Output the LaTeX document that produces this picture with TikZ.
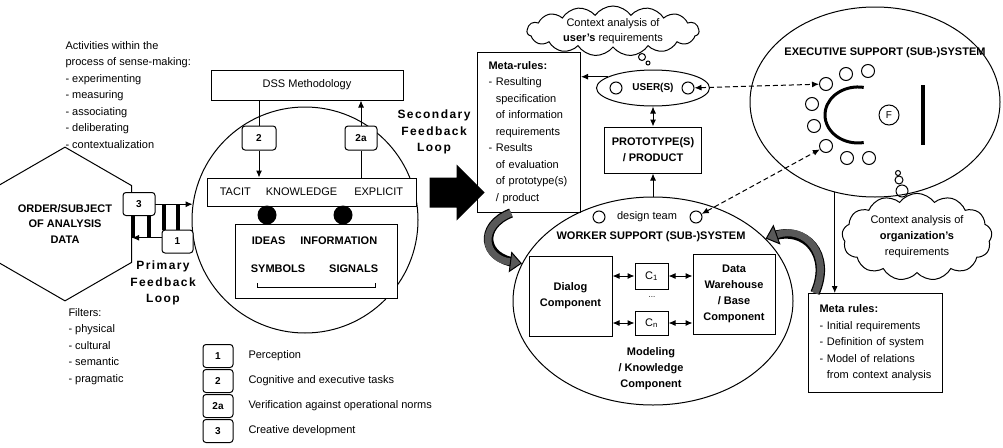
\documentclass[tikz,border=0pt]{standalone}
\usepackage{fontspec}
\setmainfont{Liberation Sans}
\newfontfamily\loopfont[LetterSpace=12]{Liberation Sans}
\usetikzlibrary{shapes.geometric,shapes.symbols,shapes.arrows,arrows.meta}

\tikzset{
  box/.style={draw, inner sep=0pt},
  heavy/.style={font=\bfseries\fontsize{11}{16}\selectfont, align=center},
  numbox/.style={draw, rounded corners=3pt, fill=white, inner sep=0pt, minimum width=32pt, minimum height=23pt, font=\bfseries},
  ring/.style={circle, draw, inner sep=0pt, minimum size=13pt},
  blob/.style={circle, fill, inner sep=0pt, minimum size=19pt},
  puff/.style={circle, draw, inner sep=0pt},
  thought/.style={cloud, cloud puffs=13, cloud puff arc=110, draw, inner sep=0pt, align=center, font=\fontsize{11}{16}\selectfont},
  looptext/.style={font=\loopfont\bfseries\fontsize{12}{16.5}\selectfont, align=center},
  dasharr/.style={<->, dash pattern=on 5pt off 3pt, line width=1pt},
  fatarr/.style={line width=7pt, draw=black!65, -{Triangle[length=12pt,width=21pt,line width=1pt,color=black,fill=black!65]},
    preaction={draw=black, line width=9.5pt, -, shorten >=6pt}}
}

\begin{document}
\begin{tikzpicture}[x=1pt, y=-1pt, line width=1pt, font=\fontsize{11}{16.5}\selectfont, >={Latex[length=7pt,width=6pt]}]
\useasboundingbox (0,0) rectangle (1003,447);

% left side: activities, filters, object of analysis
\node[anchor=north west, align=left, inner sep=0pt] (acts) at (65,41) {Activities within the\\process of sense-making:\\- experimenting\\- measuring\\- associating\\- deliberating\\- contextualization};
\node[anchor=north west, align=left, inner sep=0pt] (filt) at (68,308) {Filters:\\- physical\\- cultural\\- semantic\\- pragmatic};
\node[draw, regular polygon, regular polygon sides=6, shape border rotate=90, minimum size=122pt, inner sep=0pt, heavy, font=\bfseries\fontsize{11}{15.5}\selectfont] (obj) at (65,224) {ORDER/SUBJECT\\OF ANALYSIS\\DATA};

% sense-making circle
\node[draw, circle, minimum size=226pt] (mind) at (305,220) {};
\node[box, minimum width=192pt, minimum height=30pt] (dss) at (307,85) {DSS Methodology};
\node[box, fill=white, minimum width=209pt, minimum height=28pt] (know) at (311.5,192) {TACIT\hspace{15pt}KNOWLEDGE\hspace{17pt}EXPLICIT};
\node[box, fill=white, minimum width=162pt, minimum height=74pt] (ideas) at (316,261) {};
\node[heavy, inner sep=0pt, font=\bfseries\fontsize{11}{28}\selectfont] (forms) at (314.5,255) {IDEAS\hspace{15pt}INFORMATION\\SYMBOLS\hspace{24pt}SIGNALS};
\draw (257,283) |- (375,287) -- (375,283);
\node[blob] (dot1) at (267,215) {};
\node[blob] (dot2) at (343,215) {};
\node[numbox, minimum width=34pt, minimum height=24pt] (n2) at (259,138) {2};
\node[numbox, minimum height=24pt] (n2a) at (361,138) {2a};
\draw (dss.south -| n2) -- (n2.north);
\draw[->] (n2.south) -- (know.north -| n2);
\draw (know.north -| n2a) -- (n2a.south);
\draw[->] (n2a.north) -- (dss.south -| n2a);

% primary feedback loop
\draw[->] (mind.172 -| obj.east) -- (mind.172);
\draw[->] (mind.189) -- (mind.189 -| obj.east);
\node[numbox] (n3) at (139,204) {3};
\node[numbox, minimum width=31pt] (n1) at (177.5,241.5) {1};
\foreach \x in {133,149} \draw[line width=4.5pt] (\x,0 |- n3.south) -- (\x,0 |- mind.189);
\foreach \x in {164,178} \draw[line width=4.5pt] (\x,0 |- mind.172) -- (\x,0 |- n1.north);
\node[looptext] (prim) at (163,283) {Primary\\Feedback\\Loop};

% secondary feedback loop
\node[single arrow, fill, minimum height=55pt, inner xsep=0pt, inner ysep=14.5pt, single arrow head extend=13pt, single arrow tip angle=90] (push) at (449.5,192.5) {};
\node[looptext] (sec) at (434,132) {Secondary\\Feedback\\Loop};

% worker support
\node[box, anchor=north west, minimum width=103pt, minimum height=160pt, text width=81pt, inner xsep=11pt, align=left] (meta1) at (477,52) {\textbf{Meta-rules:}\\- Resulting\\\phantom{- }specification\\\phantom{- }of information\\\phantom{- }requirements\\- Results\\\phantom{- }of evaluation\\\phantom{- }of prototype(s)\\\phantom{- }/ product};
\node[thought, cloud puffs=15, cloud ignores aspect, minimum width=172pt, minimum height=50pt, inner xsep=-10pt, inner ysep=-10pt, font=\fontsize{11}{15}\selectfont] (ctx1) at (613,31) {Context analysis of\\\textbf{user’s} requirements};
\node[puff, minimum size=7pt] (b1) at (642,57) {};
\node[puff, minimum size=4pt] (b2) at (648,63) {};
\node[draw, ellipse, minimum width=113pt, minimum height=36pt, inner sep=0pt, font=\bfseries] (user) at (653,88) {USER(S)};
\node[ring, minimum size=12pt] (u1) at (616,88) {};
\node[ring, minimum size=12pt] (u2) at (688,88) {};
\draw[->] (user.166) -- (user.166 -| meta1.east);
\node[box, minimum width=97pt, minimum height=46pt, heavy] (proto) at (653,150) {PROTOTYPE(S)\\/ PRODUCT};
\draw[<->] (user.south) -- (proto.north);
\node[draw, ellipse, minimum width=280pt, minimum height=208pt] (worker) at (653,301) {};
\draw[->] (worker.north) -- (proto.south);
\node (team) at (647,217) {design team};
\node[ring, minimum size=12pt] (d1) at (599,217) {};
\node[ring, minimum size=12pt] (d2) at (696,217) {};
\node[heavy] (wtitle) at (651,237) {WORKER SUPPORT (SUB-)SYSTEM};
\node[box, minimum width=83pt, minimum height=80pt, heavy] (dialog) at (570.5,296) {Dialog\\Component};
\node[box, minimum width=33pt, minimum height=26pt] (c1) at (651.5,276) {C\textsubscript{1}};
\node[font=\fontsize{8}{10}\selectfont] (cdots) at (652,297) {...};
\node[box, minimum width=33pt, minimum height=24pt] (cn) at (651.5,323) {C\textsubscript{n}};
\node[box, minimum width=82pt, minimum height=80pt, heavy] (store) at (734,294) {Data\\Warehouse\\/ Base\\Component};
\draw[<->] (dialog.east |- c1) -- (c1.west);
\draw[<->] (c1.east) -- (store.west |- c1);
\draw[<->] (dialog.east |- cn) -- (cn.west);
\draw[<->] (cn.east) -- (store.west |- cn);
\node[heavy] (model) at (651,369) {Modeling\\/ Knowledge\\Component};

% executive support
\node[draw, ellipse, minimum width=250pt, minimum height=190pt] (exec) at (875,102) {};
\node[heavy] (etitle) at (885,53) {EXECUTIVE SUPPORT (SUB-)SYSTEM};
\draw[line width=3pt] (863.7,87.4) arc[start angle=-80, end angle=-280, x radius=33, y radius=28];
\draw[line width=3.5pt] (923,85) -- (923,145);
\node[ring, minimum size=20pt, font=\fontsize{10}{12}\selectfont] (fnode) at (889,115) {F};
\foreach \x/\y [count=\i] in {826/84,846/74,868/71,812/104,814/126,826/146,847/158,869/158}
  \node[ring] (e\i) at (\x,\y) {};
\draw[dasharr] (u2) -- (e1);
\draw[dasharr] (d2) -- (e6);
\node[box, anchor=north west, minimum width=134pt, minimum height=99pt, text width=112pt, inner xsep=11pt, align=left] (meta2) at (808,293) {\textbf{Meta rules:}\\- Initial requirements\\- Definition of system\\- Model of relations\\\phantom{- }from context analysis};
\draw[->] (exec.246.6) -- (exec.246.6 |- meta2.north);
\node[thought, minimum width=150pt, minimum height=85pt, aspect=1.8] (ctx2) at (917,237) {Context analysis of\\\textbf{organization’s}\\requirements};
\node[puff, minimum size=5pt] (b3) at (898,173) {};
\node[puff, minimum size=8pt] (b4) at (899,180) {};
\node[puff, minimum size=12pt] (b5) at (902,191) {};

% feedback into the worker system
\draw[fatarr] ([xshift=-18pt]meta1.south) .. controls +(-33,13) and +(-39,-5) .. (worker.164);
\draw[fatarr] ([xshift=7pt]meta2.north west) .. controls +(17,-38) and +(40,-14) .. (worker.29);

% legend
\foreach \k/\t [count=\i] in {1/Perception, 2/Cognitive and executive tasks, 2a/Verification against operational norms, 3/Creative development} {
  \node[numbox, minimum width=30pt] (leg\i) at (218,{331+25*\i}) {\k};
  \node[anchor=west, inner sep=0pt] (legt\i) at (248,{331+25*\i}) {\t};
}
\end{tikzpicture}
\end{document}
